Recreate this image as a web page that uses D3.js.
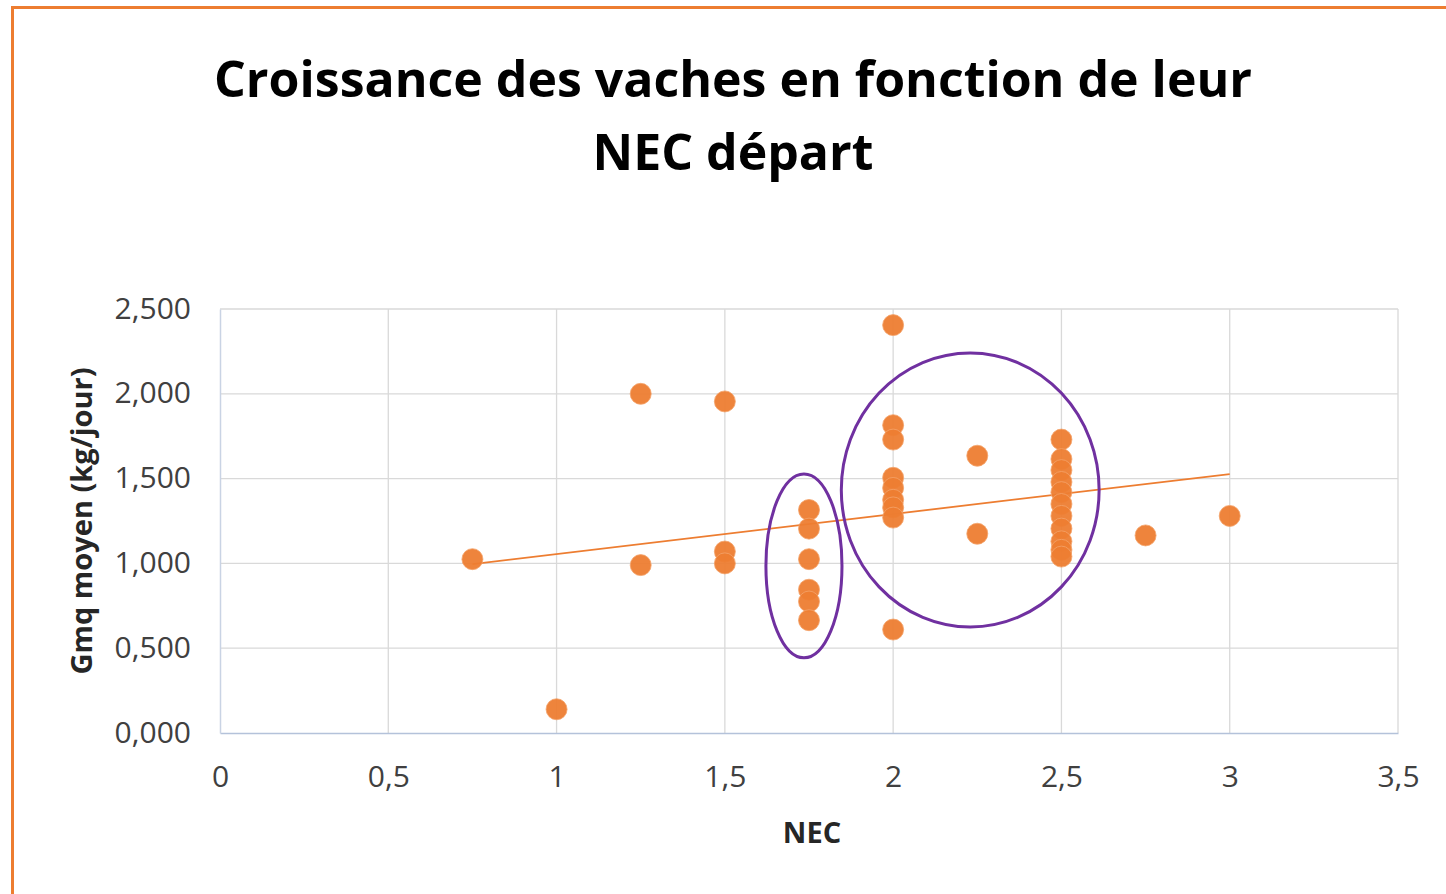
<!DOCTYPE html>
<meta charset="utf-8">
<style>
    body { margin: 0; background: #fff; }
    text { font-family: "Open Sans", "DejaVu Sans", sans-serif; }
    .grid line { stroke: #d9d9d9; stroke-width: 1.3; }
    .tick text { fill: #404040; font-size: 30px; }
</style>
<svg width="1446" height="894"></svg>
<script src="https://d3js.org/d3.v7.min.js"></script>
<script>

    // NEC départ values and the matching Gmq moyen (kg/jour)
    var nec = [0.75, 1, 1.25, 1.25, 1.5, 1.5, 1.5,
               1.75, 1.75, 1.75, 1.75, 1.75, 1.75,
               2, 2, 2, 2, 2, 2, 2, 2, 2,
               2.25, 2.25,
               2.5, 2.5, 2.5, 2.5, 2.5, 2.5, 2.5, 2.5, 2.5, 2.5, 2.5,
               2.75, 3];
    var gmq = [1.025, 0.14, 2.0, 0.99, 1.955, 1.07, 1.0,
               1.315, 1.205, 1.025, 0.845, 0.775, 0.665,
               2.405, 1.815, 1.73, 1.505, 1.445, 1.375, 1.33, 1.27, 0.61,
               1.635, 1.175,
               1.73, 1.615, 1.55, 1.48, 1.42, 1.35, 1.28, 1.205, 1.13, 1.08, 1.04,
               1.165, 1.28];

    // linear trend line, as drawn on the chart
    var trendX = [0.75, 3];
    var trendY = [0.996, 1.527];

    // purple annotation ellipses (centre and radii in data units)
    var circleCx = [1.735, 2.229];
    var circleCy = [0.985, 1.433];
    var circleRx = [0.113, 0.383];
    var circleRy = [0.542, 0.808];

    var xTicks = [0, 0.5, 1, 1.5, 2, 2.5, 3, 3.5];
    var yTicks = [0, 0.5, 1, 1.5, 2, 2.5];

    var svg = d3.select("svg"),
        margin = {top: 309, left: 220, right: 48, bottom: 161},
        width = 1446 - margin.left - margin.right,
        height = 894 - margin.top - margin.bottom;

    var x = d3.scaleLinear().domain([0, 3.5]).range([0, width]),
        y = d3.scaleLinear().domain([0, 2.5]).range([height, 0]);

    var fmtX = function(d) { return String(d).replace(".", ","); },
        fmtY = function(d) { return d3.format(".3f")(d).replace(".", ","); };

    // orange frame (top and left edges visible)
    svg.append("line").attr("x1", 11).attr("x2", 1446).attr("y1", 7.5).attr("y2", 7.5)
        .attr("stroke", "#ed7d31").attr("stroke-width", 3);
    svg.append("line").attr("x1", 12.5).attr("x2", 12.5).attr("y1", 6).attr("y2", 894)
        .attr("stroke", "#ed7d31").attr("stroke-width", 3);

    // title
    var title = svg.append("text")
        .attr("text-anchor", "middle")
        .attr("font-size", 50)
        .attr("font-weight", 700)
        .attr("fill", "#000");
    title.append("tspan").attr("x", 733).attr("y", 97).text("Croissance des vaches en fonction de leur");
    title.append("tspan").attr("x", 733).attr("y", 170).text("NEC départ");

    var g = svg.append("g")
        .attr("transform", "translate(" + margin.left + "," + margin.top + ")");

    // grid
    g.append("g").attr("class", "grid")
        .selectAll("line").data(yTicks.slice(1)).enter().append("line")
        .attr("x1", 0).attr("x2", width)
        .attr("y1", function(d) { return y(d); }).attr("y2", function(d) { return y(d); });
    g.append("g").attr("class", "grid")
        .selectAll("line").data(xTicks.slice(1)).enter().append("line")
        .attr("y1", 0).attr("y2", height)
        .attr("x1", function(d) { return x(d); }).attr("x2", function(d) { return x(d); });

    // axes
    var xAxis = g.append("g")
        .attr("transform", "translate(0," + height + ")")
        .call(d3.axisBottom(x).tickValues(xTicks).tickFormat(fmtX).tickSize(0).tickPadding(33));
    xAxis.select(".domain").attr("stroke", "#b4c2da").attr("stroke-width", 1.5);

    var yAxis = g.append("g")
        .call(d3.axisLeft(y).tickValues(yTicks).tickFormat(fmtY).tickSize(0).tickPadding(29));
    yAxis.select(".domain").attr("stroke", "#c9d3e4").attr("stroke-width", 1.5);
    yAxis.selectAll(".tick text").attr("dy", "0.3em");

    // axis titles
    svg.append("text")
        .attr("x", 812).attr("y", 843)
        .attr("text-anchor", "middle")
        .attr("font-size", 29).attr("font-weight", 700).attr("fill", "#262626")
        .text("NEC");
    svg.append("text")
        .attr("transform", "translate(92,521) rotate(-90)")
        .attr("text-anchor", "middle")
        .attr("font-size", 29).attr("font-weight", 700).attr("fill", "#262626")
        .text("Gmq moyen (kg/jour)");

    // trend line
    g.append("line")
        .attr("x1", x(trendX[0])).attr("y1", y(trendY[0]))
        .attr("x2", x(trendX[1])).attr("y2", y(trendY[1]))
        .attr("stroke", "#ed7d31").attr("stroke-width", 1.8);

    // points
    g.selectAll(".dot")
        .data(d3.range(nec.length))
        .enter().append("circle")
        .attr("class", "dot")
        .attr("cx", function(i) { return x(nec[i]); })
        .attr("cy", function(i) { return y(gmq[i]); })
        .attr("r", 10.5)
        .attr("fill", "#ed7d31")
        .attr("fill-opacity", 0.95)
        .attr("stroke", "#f4a36b")
        .attr("stroke-width", 0.8);

    // annotation ellipses
    g.selectAll(".ring")
        .data(d3.range(circleCx.length))
        .enter().append("ellipse")
        .attr("class", "ring")
        .attr("cx", function(i) { return x(circleCx[i]); })
        .attr("cy", function(i) { return y(circleCy[i]); })
        .attr("rx", function(i) { return x(circleRx[i]) - x(0); })
        .attr("ry", function(i) { return y(0) - y(circleRy[i]); })
        .attr("fill", "none")
        .attr("stroke", "#7030a0")
        .attr("stroke-width", 3);
</script>
